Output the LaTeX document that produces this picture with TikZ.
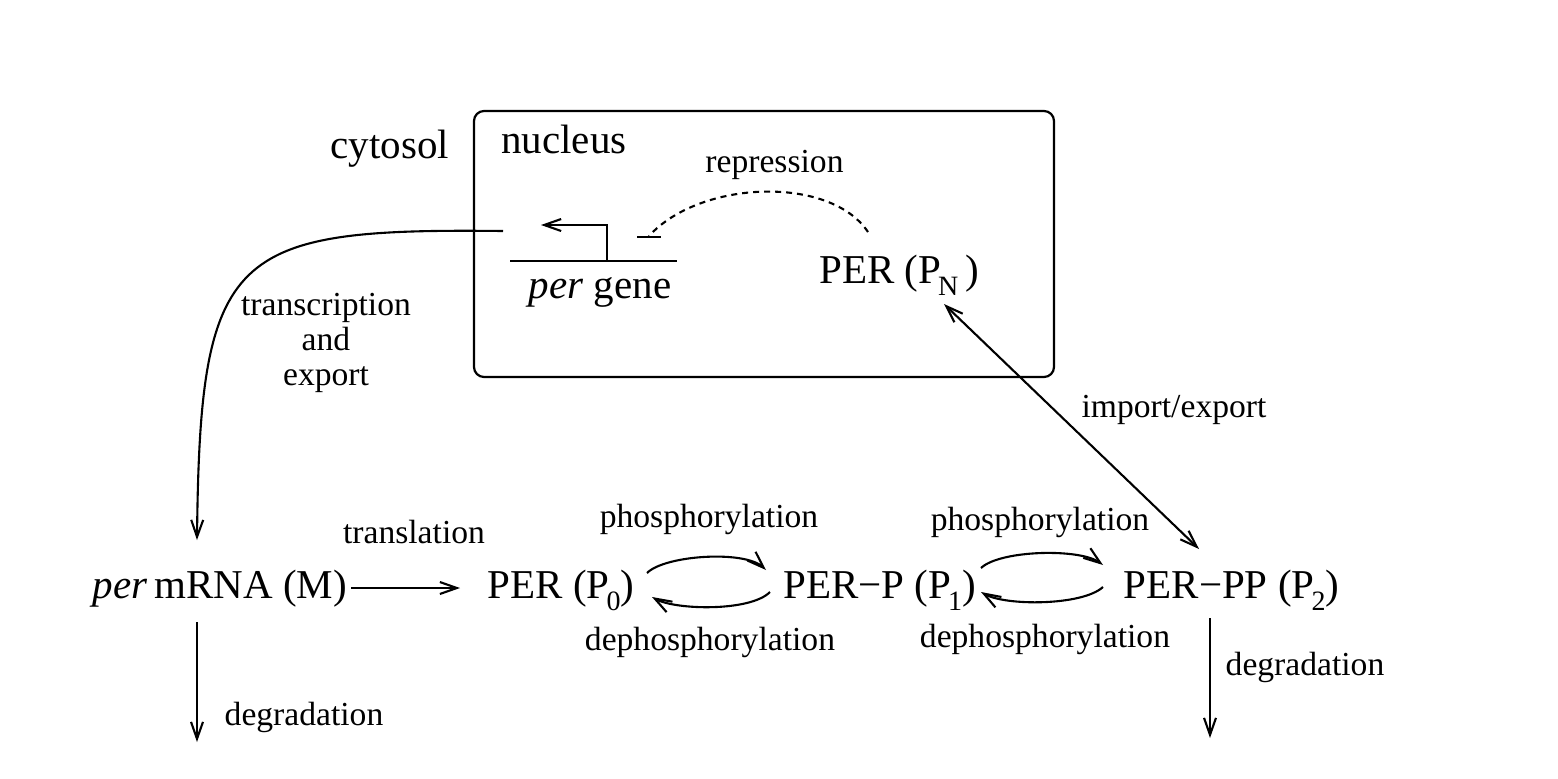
\documentclass[tikz,border=0pt]{standalone}
\usepackage{fontspec}
\setmainfont{Liberation Serif}
\usetikzlibrary{arrows.meta}
\newcommand\subsc[1]{\kern-1.5pt\raisebox{-0.3em}{\fontsize{14}{14}\selectfont #1}}
\begin{document}
\begin{tikzpicture}[x=0.5pt,y=-0.5pt,
  big/.style={font=\fontsize{20.5}{24}\selectfont, inner sep=0pt, anchor=base},
  small/.style={font=\fontsize{16.8}{17.5}\selectfont, inner sep=0pt, anchor=base},
  ln/.style={line width=1.05pt},
  arr/.style={ln, -{Straight Barb[length=8.5pt,width=6pt]}},
  darr/.style={ln, {Straight Barb[length=8.5pt,width=6pt]}-{Straight Barb[length=8.5pt,width=6pt]}},
  box/.style={line width=1.1pt, rounded corners=5pt}]
\useasboundingbox (0,0) rectangle (1558,778);

% nucleus box
\draw[box] (474,111) rectangle (1054,377);

% texts
\node[big] (cyt) at (390,158) {cytosol};
\node[big] (nuc) at (564,153) {nucleus};
\node[small] (rep) at (774.5,172) {repression};
\node[big] (gene) at (600,298) {\textit{per} gene};
\node[big] (PN) at (899,283) {PER (P\subsc{N}\,)};
\node[small, anchor=center, align=center] (tr) at (326,343) {transcription\\and\\export};
\node[small] (tl) at (414,543) {translation};
\node[small] (ph1) at (709,527) {phosphorylation};
\node[small] (ph2) at (1040,530) {phosphorylation};
\node[small] (dp1) at (710,650) {dephosphorylation};
\node[small] (dp2) at (1045,647) {dephosphorylation};
\node[small] (dg1) at (304,725) {degradation};
\node[small] (dg2) at (1305,675) {degradation};
\node[small] (ie) at (1174,417) {import/export};
\node[big] (M) at (220,598) {\textit{per}\,mRNA (M)};
\node[big] (P0) at (561,598) {PER (P\subsc{0})};
\node[big] (P1) at (879.5,598) {PER−P (P\subsc{1})};
\node[big] (P2) at (1231.5,598) {PER−PP (P\subsc{2})};

% gene symbol
\coordinate (gL) at (510,261);
\coordinate (gR) at (677,261);
\coordinate (gV) at (607,261);
\coordinate (gT) at (607,225);
\coordinate (gA) at (541,225);
\coordinate (bL) at (637,237);
\coordinate (bR) at (661,237);
\draw[ln] (gL) -- (gR);
\draw[arr] (gV) -- (gT) -- (gA);
\draw[ln] (bL) -- (bR);

% repression
\coordinate (rS) at (868,232);
\coordinate (rE) at (649,236);
\draw[ln, dash pattern=on 3pt off 2.5pt] (rS) .. controls (830,175) and (700,180) .. (rE);

% transcription and export
\coordinate (tS) at (503,231);
\coordinate (tE) at (197,540);
\draw[arr] (tS) .. controls (230,228) and (200,250) .. (tE);

% translation
\coordinate (tlS) at (351,588);
\coordinate (tlE) at (460,588);
\draw[arr] (tlS) -- (tlE);

% import/export
\coordinate (ieA) at (944,304);
\coordinate (ieB) at (1199,549);
\draw[darr] (ieA) -- (ieB);

% phosphorylation cycles
\coordinate (a1) at (647,573); \coordinate (a2) at (766,570);
\draw[arr] (a1) .. controls (665,555) and (745,550) .. (a2);
\coordinate (b1) at (770,592); \coordinate (b2) at (652,597);
\draw[arr] (b1) .. controls (750,612) and (675,610) .. (b2);
\coordinate (c1) at (981,568); \coordinate (c2) at (1103,565);
\draw[arr] (c1) .. controls (1000,550) and (1080,548) .. (c2);
\coordinate (d1) at (1103,587); \coordinate (d2) at (981,592);
\draw[arr] (d1) .. controls (1082,606) and (1005,606) .. (d2);

% degradation
\coordinate (m1) at (197,622); \coordinate (m2) at (197,742);
\draw[arr] (m1) -- (m2);
\coordinate (p1) at (1210,618); \coordinate (p2) at (1210,738);
\draw[arr] (p1) -- (p2);
\end{tikzpicture}
\end{document}
